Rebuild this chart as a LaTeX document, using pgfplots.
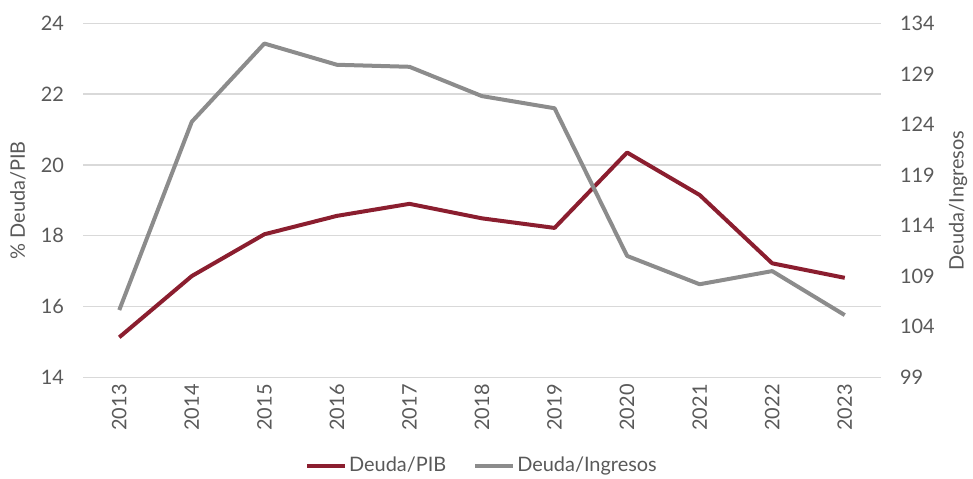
\documentclass[border=0pt]{standalone}
\usepackage{pgfplots}
\pgfplotsset{compat=1.18}
\usepackage{fontspec}
\setmainfont{Lato}
\definecolor{txt}{HTML}{595959}
\definecolor{gridc}{HTML}{D9D9D9}
\definecolor{red1}{HTML}{8B1E2F}
\definecolor{gray1}{HTML}{8C8C8C}
\begin{document}
\begin{tikzpicture}
\path[use as bounding box] (-41.5bp,-50.85bp) rectangle (445bp,188.65bp);
\pgfplotsset{
  base/.style={scale only axis, width=399bp, height=177bp, xmin=-0.5, xmax=10.5,
    axis line style={draw=none}, major tick length=0pt,
    tick label style={font=\fontsize{10}{12}\selectfont, text=txt},
    /pgf/number format/assume math mode=true}
}
\begin{axis}[base,
  ymin=14, ymax=24, ytick={14,16,18,20,22,24},
  ymajorgrids, grid style={draw=gridc, line width=0.75bp},
  xtick={0,1,2,3,4,5,6,7,8,9,10},
  xticklabels={2013,2014,2015,2016,2017,2018,2019,2020,2021,2022,2023},
  xticklabel style={rotate=90, anchor=east},
  yticklabel style={xshift=-6bp},
  ylabel={\% Deuda/PIB},
  every axis y label/.style={at={(rel axis cs:-0.0815,0.5)}, rotate=90, anchor=center,
    font=\fontsize{10}{12}\selectfont, text=txt},
  legend style={at={(0.5,-0.25)}, anchor=center, draw=none, fill=none, legend columns=2,
    font=\fontsize{10}{12}\selectfont, text=txt,
    nodes={inner xsep=1bp},
    /tikz/every odd column/.append style={column sep=0bp},
    /tikz/every even column/.append style={column sep=12.5bp}},
  legend image code/.code={\draw[#1] (0bp,0bp) -- (19bp,0bp);},
]
\addplot[red1, line width=2bp, line join=round] coordinates {
(0,15.13) (1,16.86) (2,18.04) (3,18.56) (4,18.90) (5,18.49) (6,18.22) (7,20.35) (8,19.15) (9,17.22) (10,16.81)};
\addlegendentry{Deuda/PIB}
\addlegendimage{gray1, line width=2bp}
\addlegendentry{Deuda/Ingresos}
\end{axis}
\begin{axis}[base,
  ymin=99, ymax=134, ytick={99,104,109,114,119,124,129,134},
  axis y line*=right, axis x line=none,
  yticklabel style={xshift=6bp},
  ylabel={Deuda/Ingresos},
  every axis y label/.style={at={(rel axis cs:1.0965,0.5)}, rotate=90, anchor=center,
    font=\fontsize{10}{12}\selectfont, text=txt},
]
\addplot[gray1, line width=2bp, line join=round] coordinates {
(0,105.65) (1,124.27) (2,132.0) (3,129.9) (4,129.7) (5,126.8) (6,125.6) (7,111.0) (8,108.2) (9,109.5) (10,105.15)};
\end{axis}
\end{tikzpicture}
\end{document}
